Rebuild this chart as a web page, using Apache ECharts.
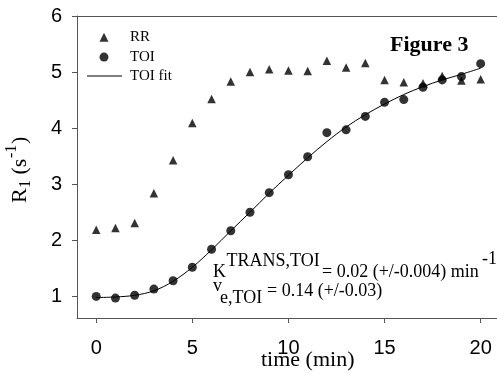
<!DOCTYPE html>
<html><head><meta charset="utf-8">
<script src="https://cdn.jsdelivr.net/npm/echarts@6/dist/echarts.min.js"></script>
<style>html,body{margin:0;padding:0;background:#fff}#c{width:497px;height:373px}</style>
</head><body><div id="c"></div>
<script>
const timeMin = [0,1,2,3,4,5,6,7,8,9,10,11,12,13,14,15,16,17,18,19,20];
const rrValues = [2.19,2.22,2.31,2.84,3.43,4.09,4.52,4.83,5.00,5.05,5.03,5.02,5.20,5.08,5.16,4.86,4.82,4.80,4.93,4.85,4.87];
const toiValues = [1.00,0.97,1.02,1.13,1.28,1.52,1.84,2.17,2.50,2.85,3.17,3.49,3.92,3.97,4.21,4.46,4.51,4.73,4.86,4.92,5.15];
const toiFitValues = [0.98,0.99,1.02,1.10,1.27,1.52,1.83,2.17,2.50,2.84,3.16,3.47,3.76,4.02,4.24,4.43,4.60,4.74,4.86,4.96,5.07];
const xTicks = [0,5,10,15,20];
const yTicks = [1,2,3,4,5,6];
const seriesNames = ['RR','TOI','TOI fit'];

const SERIF = '"Liberation Serif", "Times New Roman", serif';
const SANS = '"Liberation Sans", Arial, sans-serif';
const AX = '#555';

function pair(xs, ys){ return xs.map((x,i)=>[x, ys[i]]); }
// text placed by alphabetic baseline
function txt(str, x, base, fs, extra){
  return {type:'text', style:Object.assign({text:str, x:x, y:base-0.3*fs, fontSize:fs, fontFamily:SERIF, fill:'#000', verticalAlign:'middle', align:'left'}, extra||{})};
}

const chart = echarts.init(document.getElementById('c'), null, {renderer:'canvas'});
chart.setOption({
  animation:false,
  backgroundColor:'#fff',
  grid:{left:77, top:16, right:0, bottom:55, containLabel:false},
  legend:[{
    orient:'vertical', left:99.5, top:29.75, padding:0, itemGap:4.85,
    itemWidth:9, itemHeight:9,
    textStyle:{fontFamily:SERIF, fontSize:15, color:'#000', padding:[0,0,0,16.5]},
    data:[{name:seriesNames[0], icon:'triangle'},{name:seriesNames[1], icon:'circle'}]
  },{
    orient:'vertical', left:87, top:68.45, padding:0,
    itemWidth:35, itemHeight:1,
    textStyle:{fontFamily:SERIF, fontSize:15, color:'#000', padding:[0,0,0,3]},
    data:[{name:seriesNames[2], icon:'rect'}]
  }],
  xAxis:[{
    type:'value', min:-1, max:20.85, position:'bottom',
    axisLine:{show:true, onZero:false, lineStyle:{color:AX, width:1}},
    axisTick:{show:true, length:5, customValues:xTicks, lineStyle:{color:AX}},
    axisLabel:{customValues:xTicks, fontSize:20, fontFamily:SANS, color:'#000', margin:20},
    splitLine:{show:false}
  },{
    type:'value', min:-1, max:20.85, position:'top',
    axisLine:{show:true, onZero:false, lineStyle:{color:AX, width:1}},
    axisTick:{show:false}, axisLabel:{show:false}, splitLine:{show:false}
  }],
  yAxis:{
    type:'value', min:0.615, max:6,
    axisLine:{show:true, onZero:false, lineStyle:{color:AX, width:1}},
    axisTick:{show:true, length:5, customValues:yTicks, lineStyle:{color:AX}},
    axisLabel:{customValues:yTicks, fontSize:20, fontFamily:SANS, color:'#000', margin:15},
    splitLine:{show:false}
  },
  series:[
    {name:seriesNames[2], type:'line', data:pair(timeMin, toiFitValues), smooth:0.35, showSymbol:false, symbol:'none',
     lineStyle:{color:'#000', width:1}, itemStyle:{color:'#000'}, z:2},
    {name:seriesNames[0], type:'scatter', data:pair(timeMin, rrValues), symbol:'triangle', symbolSize:8.5,
     itemStyle:{color:'#000'}, z:3},
    {name:seriesNames[1], type:'scatter', data:pair(timeMin, toiValues), symbol:'circle', symbolSize:9,
     itemStyle:{color:'#000'}, z:4}
  ],
  graphic:[
    txt('Figure 3', 390, 52.3, 22, {fontWeight:'bold'}),
    txt('time (min)', 261, 366.7, 22),
    txt('K', 213, 278, 18),
    txt('TRANS,TOI', 226.5, 266.5, 18),
    txt('= 0.02 (+/-0.004) min', 322, 277.5, 18),
    txt('-1', 482, 265, 18),
    txt('v', 213, 291.7, 18),
    txt('e,TOI', 220, 303.3, 18),
    txt('= 0.14 (+/-0.03)', 267, 296.7, 18),
    {type:'group', x:27, y:203, rotation:Math.PI/2, children:[
      {type:'text', style:{text:'R', x:0, y:-6.6, fontSize:22, fontFamily:SERIF, fill:'#000', verticalAlign:'middle'}},
      {type:'text', style:{text:'1', x:15, y:4-4.8, fontSize:16, fontFamily:SERIF, fill:'#000', verticalAlign:'middle'}},
      {type:'text', style:{text:' (s', x:23, y:-6.6, fontSize:22, fontFamily:SERIF, fill:'#000', verticalAlign:'middle'}},
      {type:'text', style:{text:'-1', x:45, y:-10-4.8, fontSize:16, fontFamily:SERIF, fill:'#000', verticalAlign:'middle'}},
      {type:'text', style:{text:')', x:59, y:-6.6, fontSize:22, fontFamily:SERIF, fill:'#000', verticalAlign:'middle'}}
    ]}
  ]
});
</script></body></html>
